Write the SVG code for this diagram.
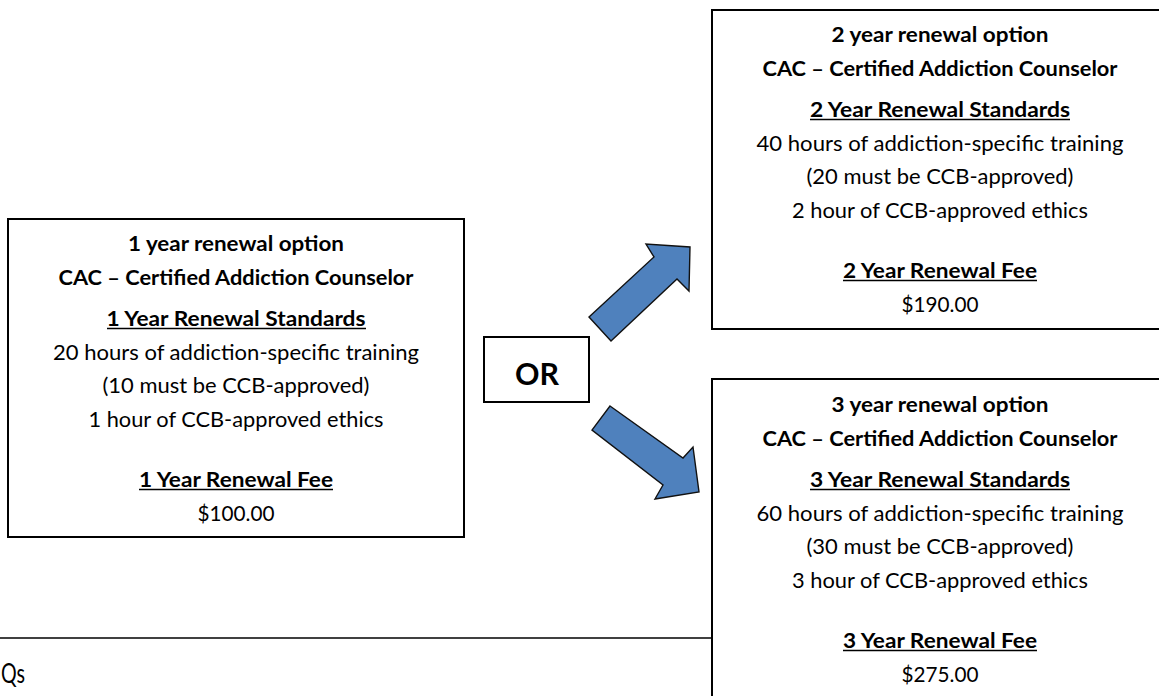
<svg xmlns="http://www.w3.org/2000/svg" width="1159" height="696" viewBox="0 0 1159 696">
<style>
.box{fill:#fff;stroke:#000;stroke-width:2}
.t{font-family:Lato,"Open Sans","Liberation Sans",sans-serif;font-size:21px;fill:#000;text-anchor:middle}
.b{font-weight:bold}
.ul{stroke:#000;stroke-width:1.6}
.arrow{fill:#4F81BD;stroke:#111;stroke-width:1.4;stroke-linejoin:miter}
</style>
<rect width="1159" height="696" fill="#fff"/>
<g id="rule">
<line x1="0" y1="638" x2="712" y2="638" stroke="#000" stroke-width="1.6"/>
<text x="1" y="683" textLength="24" lengthAdjust="spacingAndGlyphs" style="font-family:Lato,'Open Sans','Liberation Sans',sans-serif;font-size:26px">Qs</text>
</g>
<g id="node-1year">
<rect class="box" x="8" y="219" width="456" height="318"/>
<text class="t b" x="236" y="251" textLength="216" lengthAdjust="spacingAndGlyphs">1 year renewal option</text>
<text class="t b" x="236" y="285" textLength="355" lengthAdjust="spacingAndGlyphs">CAC – Certified Addiction Counselor</text>
<text class="t b" x="236" y="326" textLength="259" lengthAdjust="spacingAndGlyphs">1 Year Renewal Standards</text>
<line class="ul" x1="107" y1="328.5" x2="366" y2="328.5"/>
<text class="t" x="236" y="360" textLength="366" lengthAdjust="spacingAndGlyphs">20 hours of addiction-specific training</text>
<text class="t" x="236" y="393" textLength="267" lengthAdjust="spacingAndGlyphs">(10 must be CCB-approved)</text>
<text class="t" x="236" y="427" textLength="295" lengthAdjust="spacingAndGlyphs">1 hour of CCB-approved ethics</text>
<text class="t b" x="236" y="487" textLength="194" lengthAdjust="spacingAndGlyphs">1 Year Renewal Fee</text>
<line class="ul" x1="139" y1="489.5" x2="333" y2="489.5"/>
<text class="t" x="236" y="521" textLength="77" lengthAdjust="spacingAndGlyphs">$100.00</text>
</g>
<g id="node-or">
<rect class="box" x="484" y="337" width="105" height="65"/>
<text x="537" y="385" style="font-family:Lato,'Open Sans','Liberation Sans',sans-serif;font-size:30px;font-weight:bold;text-anchor:middle" textLength="44" lengthAdjust="spacingAndGlyphs">OR</text>
</g>
<g id="node-2year">
<rect class="box" x="712" y="10" width="456" height="319"/>
<text class="t b" x="940" y="42" textLength="217" lengthAdjust="spacingAndGlyphs">2 year renewal option</text>
<text class="t b" x="940" y="76" textLength="355" lengthAdjust="spacingAndGlyphs">CAC – Certified Addiction Counselor</text>
<text class="t b" x="940" y="117" textLength="260" lengthAdjust="spacingAndGlyphs">2 Year Renewal Standards</text>
<line class="ul" x1="810" y1="119.5" x2="1070" y2="119.5"/>
<text class="t" x="940" y="151" textLength="367" lengthAdjust="spacingAndGlyphs">40 hours of addiction-specific training</text>
<text class="t" x="940" y="184" textLength="267" lengthAdjust="spacingAndGlyphs">(20 must be CCB-approved)</text>
<text class="t" x="940" y="218" textLength="296" lengthAdjust="spacingAndGlyphs">2 hour of CCB-approved ethics</text>
<text class="t b" x="940" y="278" textLength="194" lengthAdjust="spacingAndGlyphs">2 Year Renewal Fee</text>
<line class="ul" x1="843" y1="280.5" x2="1037" y2="280.5"/>
<text class="t" x="940" y="312" textLength="77" lengthAdjust="spacingAndGlyphs">$190.00</text>
</g>
<g id="node-3year">
<rect class="box" x="712" y="379" width="456" height="330"/>
<text class="t b" x="940" y="412" textLength="217" lengthAdjust="spacingAndGlyphs">3 year renewal option</text>
<text class="t b" x="940" y="446" textLength="355" lengthAdjust="spacingAndGlyphs">CAC – Certified Addiction Counselor</text>
<text class="t b" x="940" y="487" textLength="260" lengthAdjust="spacingAndGlyphs">3 Year Renewal Standards</text>
<line class="ul" x1="810" y1="489.5" x2="1070" y2="489.5"/>
<text class="t" x="940" y="521" textLength="367" lengthAdjust="spacingAndGlyphs">60 hours of addiction-specific training</text>
<text class="t" x="940" y="554" textLength="267" lengthAdjust="spacingAndGlyphs">(30 must be CCB-approved)</text>
<text class="t" x="940" y="588" textLength="296" lengthAdjust="spacingAndGlyphs">3 hour of CCB-approved ethics</text>
<text class="t b" x="940" y="648" textLength="194" lengthAdjust="spacingAndGlyphs">3 Year Renewal Fee</text>
<line class="ul" x1="843" y1="650.5" x2="1037" y2="650.5"/>
<text class="t" x="940" y="682" textLength="77" lengthAdjust="spacingAndGlyphs">$275.00</text>
</g>
<g id="connectors">
<polygon class="arrow" points="589,317 654,257 646,244 690,247 689,291 677,279 611,341"/>
<polygon class="arrow" points="610,406 683,458 693,447 699,492 655,499 663,485 592,430"/>
</g>
</svg>
